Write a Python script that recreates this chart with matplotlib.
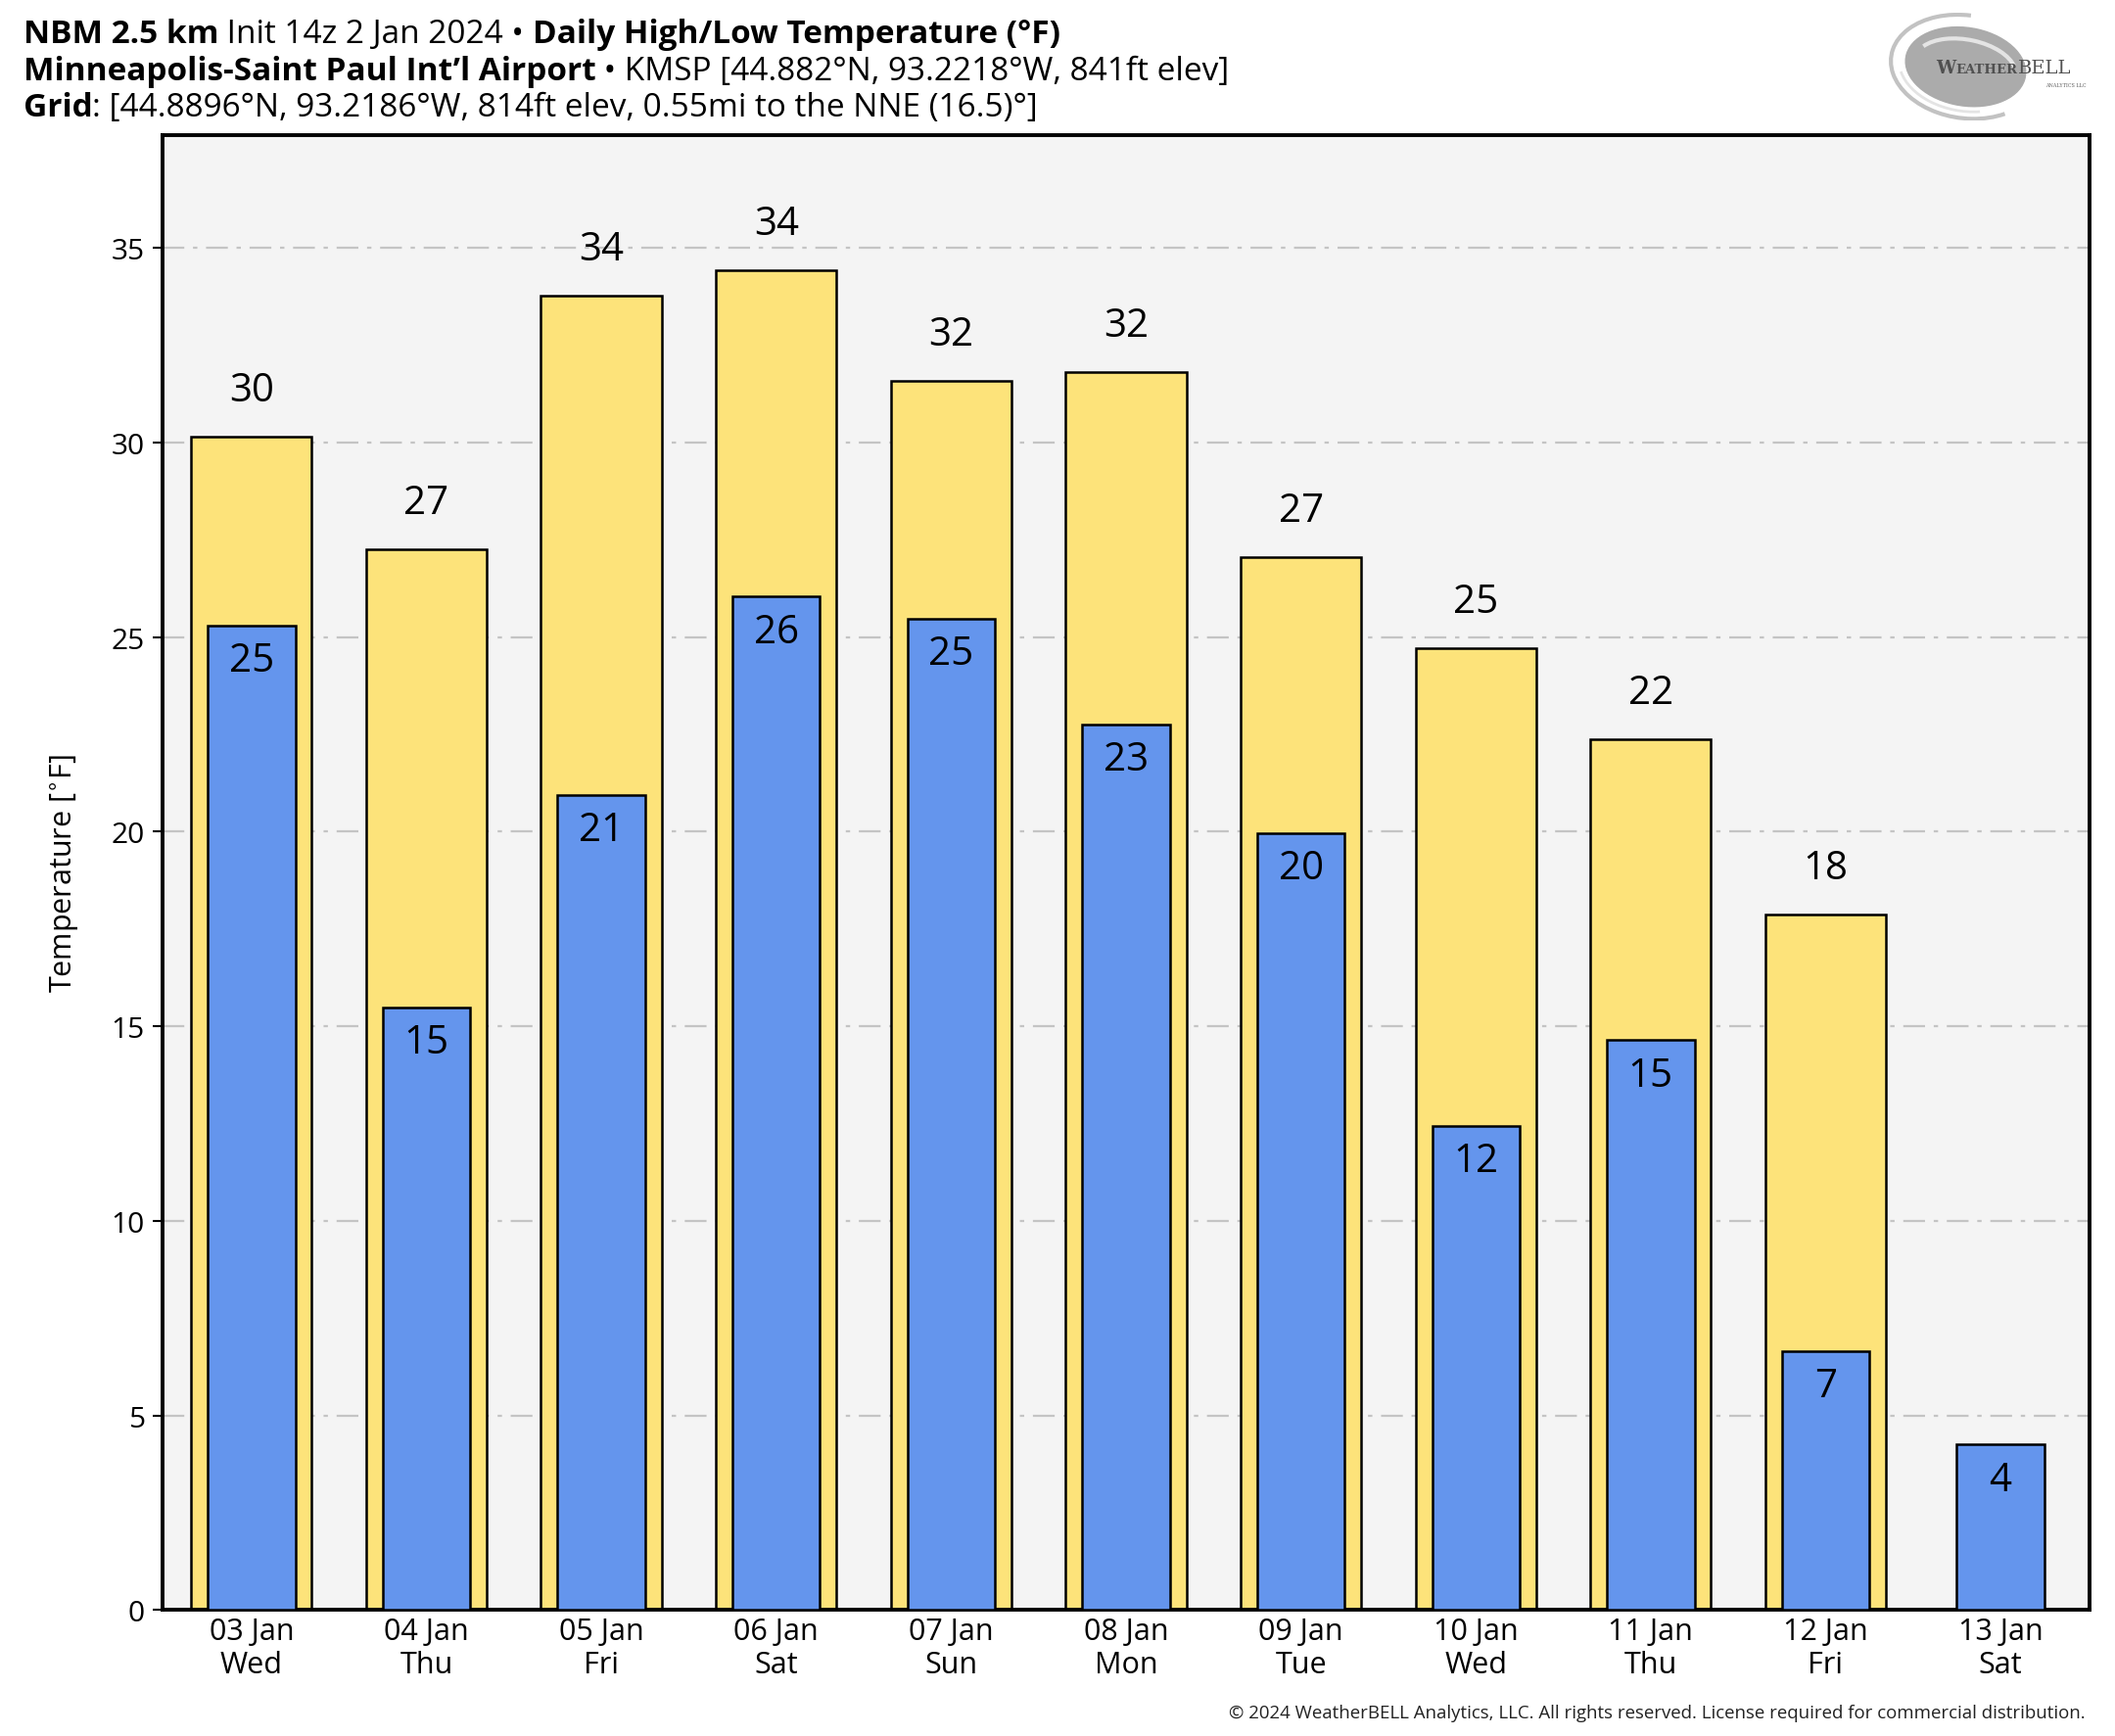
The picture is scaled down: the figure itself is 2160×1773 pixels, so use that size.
import numpy as np
import matplotlib.pyplot as plt
from matplotlib.patches import Ellipse, Arc

plt.rcParams['font.family'] = ['Open Sans', 'DejaVu Sans']

days = ['03 Jan\nWed', '04 Jan\nThu', '05 Jan\nFri', '06 Jan\nSat', '07 Jan\nSun',
        '08 Jan\nMon', '09 Jan\nTue', '10 Jan\nWed', '11 Jan\nThu', '12 Jan\nFri',
        '13 Jan\nSat']
highs = [30.15, 27.26, 33.78, 34.44, 31.58, 31.82, 27.05, 24.71, 22.38, 17.88, np.nan]
lows = [25.30, 15.48, 20.95, 26.04, 25.48, 22.76, 19.97, 12.44, 14.64, 6.66, 4.25]

fig = plt.figure(figsize=(21.6, 17.74), dpi=100)
ax = fig.add_axes([0.0769, 0.0726, 0.911, 0.849])
ax.set_facecolor('#f4f4f4')

x = np.arange(len(days))
ax.bar(x, highs, width=0.69, color='#fde37a', edgecolor='black', linewidth=1.8, zorder=2)
ax.bar(x, lows, width=0.50, color='#6495ed', edgecolor='black', linewidth=1.8, zorder=3)

for xi, h in zip(x, highs):
    if not np.isnan(h):
        ax.annotate(f'{h:.0f}', (xi, h), xytext=(0, 34), textcoords='offset points',
                    ha='center', va='center', fontsize=29, zorder=4)
for xi, l in zip(x, lows):
    ax.annotate(f'{l:.0f}', (xi, l), xytext=(0, -26), textcoords='offset points',
                ha='center', va='center', fontsize=29, zorder=4)

ax.set_xlim(-0.508, len(days) - 0.492)
ax.set_ylim(0, 37.9)
ax.set_yticks(range(0, 36, 5))
ax.set_xticks(x)
ax.set_xticklabels(days, fontsize=22, linespacing=1.15)
ax.tick_params(axis='x', length=0, pad=5)
ax.tick_params(axis='y', labelsize=21.5, length=7, width=1.5, direction='out', pad=6)
ax.set_ylabel('Temperature [$^{\\circ}$F]', fontsize=22, labelpad=22)
ax.grid(axis='y', color='#c4c4c4', linestyle=(0, (10, 4, 2, 4)), linewidth=1.6, zorder=1)
ax.set_axisbelow(True)
for s in ax.spines.values():
    s.set_linewidth(2.8)
    s.set_color('black')

renderer = fig.canvas.get_renderer()

def pieces_line(x0, y, pieces, **kw):
    # place text pieces one after another on a common baseline
    xpos = x0
    for txt, size, bold in pieces:
        t = fig.text(xpos, y, txt, fontsize=size, fontweight='bold' if bold else 'normal',
                     ha='left', va='baseline', **kw)
        bb = t.get_window_extent(renderer=renderer)
        xpos += bb.width / fig.bbox.width

ts = 24
pieces_line(0.0109, 0.975, [('NBM 2.5 km', ts, True), (' Init 14z 2 Jan 2024 \u2022 ', ts, False),
                            ('Daily High/Low Temperature (\u00b0F)', ts, True)])
pieces_line(0.0109, 0.954, [('Minneapolis-Saint Paul Int\u2019l Airport', ts, True),
                            (' \u2022 KMSP [44.882\u00b0N, 93.2218\u00b0W, 841ft elev]', ts, False)])
pieces_line(0.0109, 0.933, [('Grid', ts, True),
                            (': [44.8896\u00b0N, 93.2186\u00b0W, 814ft elev, 0.55mi to the NNE (16.5)\u00b0]', ts, False)])

fig.text(0.986, 0.0105, '\u00a9 2024 WeatherBELL Analytics, LLC. All rights reserved. '
         'License required for commercial distribution.', fontsize=13.4, ha='right',
         va='baseline', color='#222222')

# logo
lax = fig.add_axes([0.893, 0.930, 0.097, 0.062])
lax.set_xlim(0, 1.6)
lax.set_ylim(0, 1)
lax.axis('off')
lax.add_patch(Ellipse((0.6, 0.5), 0.95, 0.72, angle=-15, color='#ababab'))
lax.add_patch(Arc((0.6, 0.5), 1.18, 0.95, angle=-15, theta1=100, theta2=320,
                  color='#c2c2c2', lw=3))
lax.add_patch(Arc((0.6, 0.5), 0.8, 0.5, angle=-15, theta1=15, theta2=165,
                  color='#e4e4e4', lw=3))
lax.add_patch(Arc((0.6, 0.5), 1.05, 0.82, angle=-15, theta1=200, theta2=300,
                  color='#e4e4e4', lw=2))
pieces_line(0.9155, 0.9575, [('W', 13, True), ('EATHER', 9.5, True), ('BELL', 14, False)],
            family='DejaVu Serif', color='#505050')
fig.text(0.9865, 0.950, 'ANALYTICS LLC', fontsize=3.5, family='DejaVu Serif',
         color='#606060', ha='right', va='baseline')

fig.savefig('out.png', dpi=100, facecolor='white')
